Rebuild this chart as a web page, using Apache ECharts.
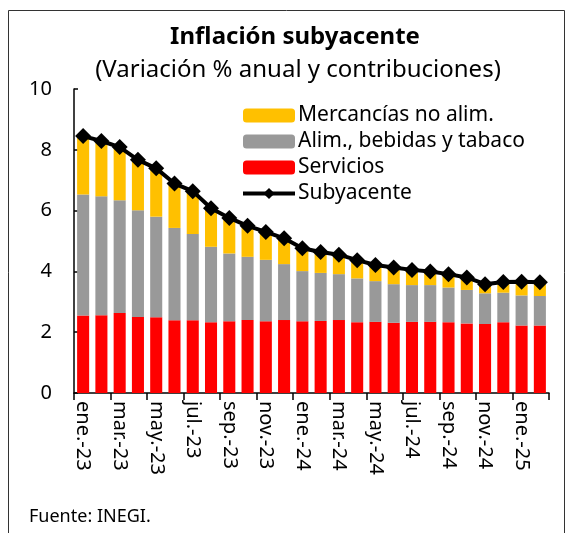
<!DOCTYPE html>
<html>
<head>
<meta charset="utf-8">
<script src="https://cdn.jsdelivr.net/npm/echarts@6/dist/echarts.min.js"></script>
<style>
html,body{margin:0;padding:0;background:#fff;}
#chart{width:569px;height:533px;}
</style>
</head>
<body>
<div id="chart"></div>
<script>
const categories = ['ene.-23','feb.-23','mar.-23','abr.-23','may.-23','jun.-23','jul.-23','ago.-23','sep.-23','oct.-23','nov.-23','dic.-23',
  'ene.-24','feb.-24','mar.-24','abr.-24','may.-24','jun.-24','jul.-24','ago.-24','sep.-24','oct.-24','nov.-24','dic.-24','ene.-25','feb.-25'];
const servicios = [2.55,2.56,2.63,2.50,2.49,2.39,2.39,2.33,2.36,2.40,2.36,2.40,2.36,2.37,2.40,2.33,2.34,2.31,2.34,2.34,2.33,2.29,2.27,2.33,2.22,2.22];
const alimentos = [3.98,3.91,3.71,3.51,3.31,3.04,2.84,2.48,2.23,2.08,2.02,1.84,1.65,1.58,1.51,1.44,1.34,1.27,1.21,1.21,1.14,1.10,1.01,0.97,0.99,0.97];
const mercancias = [1.92,1.82,1.75,1.66,1.59,1.46,1.41,1.27,1.17,1.02,0.92,0.85,0.75,0.69,0.64,0.60,0.53,0.55,0.50,0.45,0.44,0.41,0.30,0.35,0.45,0.45];
const subyacente = [8.45,8.29,8.09,7.67,7.39,6.89,6.64,6.08,5.76,5.50,5.30,5.09,4.76,4.64,4.55,4.37,4.21,4.13,4.05,4.00,3.91,3.80,3.58,3.65,3.66,3.64];
const yTicks = {min:0, max:10, interval:2};

const FONT = "'Noto Sans', 'Open Sans', sans-serif";
const chart = echarts.init(document.getElementById('chart'), null, {renderer:'canvas'});
chart.setOption({
  animation:false,
  textStyle:{fontFamily:FONT},
  title:[
    {text:'Inflación subyacente', left:290, top:20, textAlign:'center',
     textStyle:{fontFamily:FONT, fontSize:24, fontWeight:'bold', color:'#000'}},
    {text:'(Variación % anual y contribuciones)', left:293, top:53, textAlign:'center',
     textStyle:{fontFamily:FONT, fontSize:24, fontWeight:'normal', color:'#000'}}
  ],
  graphic:[
    {type:'rect', shape:{x:8.5, y:10.5, width:556, height:560}, style:{fill:'none', stroke:'#333', lineWidth:1}, silent:true},
    {type:'text', left:29, top:508, style:{text:'Fuente: INEGI.', font:"18px 'Noto Sans', sans-serif", fill:'#000'}}
  ],
  legend:{
    orient:'vertical', left:236, top:100, itemWidth:52, itemHeight:14, itemGap:5,
    data:['Mercancías no alim.','Alim., bebidas y tabaco','Servicios',
      {name:'Subyacente', lineStyle:{width:4, color:'#000'}, itemStyle:{color:'#000'}}],
    textStyle:{fontFamily:FONT, fontSize:21, color:'#000', padding:[0,0,0,-2]}
  },
  grid:{left:74, right:20, top:89, bottom:140, containLabel:false},
  xAxis:{
    type:'category', data:categories,
    axisLine:{lineStyle:{color:'#000', width:1.5}},
    axisTick:{show:true, interval:1, alignWithLabel:false, length:7, lineStyle:{color:'#000', width:1.5}},
    axisLabel:{interval:1, rotate:-90, fontFamily:FONT, fontSize:20, color:'#000', margin:8}
  },
  yAxis:{
    type:'value', min:yTicks.min, max:yTicks.max, interval:yTicks.interval,
    splitLine:{show:false},
    axisLine:{show:true, lineStyle:{color:'#000', width:1.5}},
    axisTick:{show:true, inside:true, length:4, lineStyle:{color:'#000', width:1.5}},
    axisLabel:{fontFamily:FONT, fontSize:20, color:'#000', margin:22}
  },
  series:[
    {name:'Servicios', type:'bar', stack:'c', data:servicios, barWidth:'66%',
     itemStyle:{color:'#FF0000'}},
    {name:'Alim., bebidas y tabaco', type:'bar', stack:'c', data:alimentos,
     itemStyle:{color:'#999999'}},
    {name:'Mercancías no alim.', type:'bar', stack:'c', data:mercancias,
     itemStyle:{color:'#FFC000'}},
    {name:'Subyacente', type:'line', data:subyacente, symbol:'diamond', symbolSize:16,
     showAllSymbol:true,
     lineStyle:{color:'#000', width:4}, itemStyle:{color:'#000'}, z:5}
  ]
});
</script>
</body>
</html>
